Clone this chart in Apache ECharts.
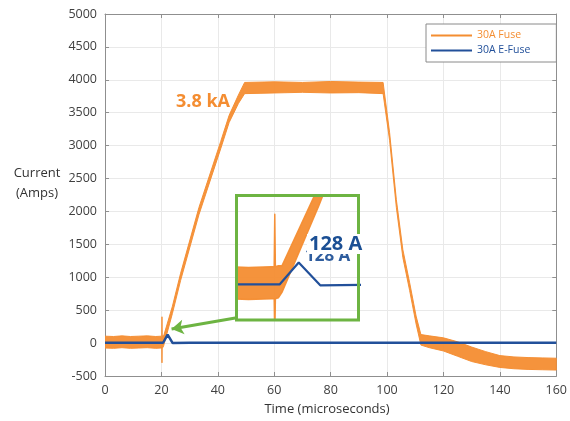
<!DOCTYPE html>
<html>
<head>
<meta charset="utf-8">
<script src="https://cdn.jsdelivr.net/npm/echarts@6/dist/echarts.min.js"></script>
<style>html,body{margin:0;padding:0;background:#fff}#c{width:570px;height:421px}</style>
</head>
<body>
<div id="c"></div>
<script>
// Time axis (microseconds) for the 30A Fuse trace, with its noise envelope (Amps)
const fuseTime = [0, 3, 6, 9, 12, 15, 18, 19.9, 20.15, 20.2, 20.25, 20.5, 20.8, 23.9, 26.8, 33.3, 41, 44, 47.3, 49.5, 60, 70, 80, 90, 98.6, 100.9, 103.3, 105.6, 108, 110.3, 112, 115, 120, 125, 130, 135, 140, 145, 150, 155, 160];
const fuseLow  = [-75, -80, -70, -80, -75, -70, -80, -75, -75, -300, -75, -70, -40, 450, 950, 1950, 2950, 3350, 3640, 3790, 3800, 3810, 3800, 3805, 3790, 3080, 2060, 1300, 800, 290, -30, -70, -120, -200, -280, -330, -370, -390, -400, -405, -410];
const fuseHigh = [105, 100, 110, 100, 105, 110, 100, 105, 105, 400, 105, 110, 110, 560, 1060, 2060, 3060, 3460, 3770, 3960, 3970, 3960, 3975, 3965, 3960, 3200, 2180, 1420, 920, 410, 130, 110, 80, 20, -60, -130, -190, -210, -220, -225, -230];
// 30A E-Fuse trace
const eFuseTime = [0, 10, 20.6, 22.2, 24.0, 30, 60, 90, 120, 160];
const eFuseVal  = [5, 5, 5, 128, 0, 5, 5, 5, 5, 5];
// Axis ticks
const xTicks = [0, 160, 20];
const yTicks = [-500, 5000, 500];
// Annotations
const peakLabel = '3.8 kA';
const eFuseLabel = '128 A';
const seriesNames = ['30A Fuse', '30A E-Fuse'];

const ORANGE = '#f48d31';
const BLUE = '#22509a';
const GREEN = '#6db442';
const FONT = '"Open Sans", sans-serif';

const bluePairs = eFuseTime.map((t, i) => [t, eFuseVal[i]]);

function fuseBand(axisIdx, w) {
  return {
    name: seriesNames[0], type: 'custom', xAxisIndex: axisIdx, yAxisIndex: axisIdx,
    data: [[fuseTime[0], fuseLow[0]]], clip: true, silent: true, z: 3 + axisIdx * 5,
    itemStyle: { color: ORANGE },
    renderItem: function (params, api) {
      const pts = [];
      for (let i = 0; i < fuseTime.length; i++) pts.push(api.coord([fuseTime[i], fuseHigh[i]]));
      for (let i = fuseTime.length - 1; i >= 0; i--) pts.push(api.coord([fuseTime[i], fuseLow[i]]));
      return { type: 'polygon', shape: { points: pts },
        style: { fill: ORANGE, stroke: ORANGE, lineWidth: w, lineJoin: 'round', opacity: 0.95 } };
    }
  };
}

const chart = echarts.init(document.getElementById('c'), null, { renderer: 'canvas' });
const axisLineStyle = { color: '#8f8f8f', width: 1 };
const labelStyle = { color: '#404040', fontSize: 12.5, fontFamily: FONT, formatter: v => String(v) };

chart.setOption({
  animation: false,
  backgroundColor: '#fff',
  textStyle: { fontFamily: FONT },
  grid: [
    { left: 105, top: 14, right: 9, bottom: 45, containLabel: false },
    { left: 236.5, top: 195.5, width: 122, height: 124.5, show: true, borderColor: GREEN, borderWidth: 3, backgroundColor: 'transparent', z: 20 }
  ],
  xAxis: [
    { type: 'value', gridIndex: 0, min: xTicks[0], max: xTicks[1], interval: xTicks[2],
      axisLine: { show: true, onZero: false, lineStyle: axisLineStyle }, axisTick: { show: true, inside: true, length: 4, lineStyle: axisLineStyle },
      axisLabel: Object.assign({ margin: 8 }, labelStyle),
      splitLine: { show: true, lineStyle: { color: '#e9e9e9', width: 1 } } },
    { type: 'value', gridIndex: 1, min: 17, max: 27.2, show: false, splitLine: { show: false } },
    { type: 'value', gridIndex: 0, position: 'top', min: xTicks[0], max: xTicks[1], interval: xTicks[2],
      axisLine: { show: true, onZero: false, lineStyle: axisLineStyle }, axisTick: { show: true, inside: true, length: 4, lineStyle: axisLineStyle },
      axisLabel: { show: false }, splitLine: { show: false } }
  ],
  yAxis: [
    { type: 'value', gridIndex: 0, min: yTicks[0], max: yTicks[1], interval: yTicks[2],
      axisLine: { show: true, onZero: false, lineStyle: axisLineStyle }, axisTick: { show: true, inside: true, length: 4, lineStyle: axisLineStyle },
      axisLabel: Object.assign({ margin: 8 }, labelStyle),
      splitLine: { show: true, lineStyle: { color: '#e9e9e9', width: 1 } } },
    { type: 'value', gridIndex: 1, min: -195, max: 505, show: false, splitLine: { show: false } },
    { type: 'value', gridIndex: 0, position: 'right', min: yTicks[0], max: yTicks[1], interval: yTicks[2],
      axisLine: { show: true, onZero: false, lineStyle: axisLineStyle }, axisTick: { show: true, inside: true, length: 4, lineStyle: axisLineStyle },
      axisLabel: { show: false }, splitLine: { show: false } }
  ],
  legend: {
    orient: 'vertical', left: 426, top: 24,
    padding: [6, 26, 6, 5], itemGap: 4,
    itemWidth: 41, itemHeight: 2, icon: 'rect',
    backgroundColor: '#fff', borderColor: '#8a8a8a', borderWidth: 1, borderRadius: 0,
    textStyle: { fontSize: 10.5, fontFamily: FONT },
    data: [
      { name: seriesNames[0], itemStyle: { color: ORANGE }, textStyle: { color: ORANGE } },
      { name: seriesNames[1], itemStyle: { color: BLUE }, textStyle: { color: BLUE } }
    ]
  },
  series: [
    fuseBand(0, 1),
    { name: seriesNames[1], type: 'line', xAxisIndex: 0, yAxisIndex: 0, data: bluePairs,
      showSymbol: false, symbol: 'none', lineStyle: { color: BLUE, width: 2.5 }, itemStyle: { color: BLUE }, z: 4,
      markLine: {
        silent: true, symbol: ['none', 'arrow'], symbolSize: [11, 12],
        lineStyle: { color: GREEN, width: 3, type: 'solid' }, label: { show: false },
        data: [[{ coord: [46.2, 380] }, { coord: [23.6, 215] }]]
      } },
    fuseBand(1, 1.5),
    { name: seriesNames[1], type: 'line', xAxisIndex: 1, yAxisIndex: 1, data: bluePairs,
      showSymbol: false, symbol: 'none', lineStyle: { color: BLUE, width: 2.2 }, itemStyle: { color: BLUE }, z: 9 }
  ],
  graphic: [
    { type: 'text', z: 50, style: { text: 'Current\n(Amps)', x: 37, y: 183, align: 'center', verticalAlign: 'middle', font: '13px ' + FONT, fill: '#333', lineHeight: 20 } },
    { type: 'text', z: 50, style: { text: 'Time (microseconds)', x: 327, y: 409, align: 'center', verticalAlign: 'middle', font: '13px ' + FONT, fill: '#333' } },
    { type: 'text', z: 50, style: { text: peakLabel, x: 176, y: 102, align: 'left', verticalAlign: 'middle', font: 'bold 18px ' + FONT, fill: ORANGE } },
    { type: 'text', z: 50, style: { text: eFuseLabel, x: 305, y: 256, align: 'left', verticalAlign: 'middle', font: 'bold 17px ' + FONT, fill: '#2f5d9e' } },
    { type: 'text', z: 51, style: { text: eFuseLabel, x: 307, y: 244, align: 'left', verticalAlign: 'middle', font: 'bold 20px ' + FONT, fill: '#1b4f94', backgroundColor: '#fff', padding: [0, 1, 0, 2] } }
  ]
});
</script>
</body>
</html>
